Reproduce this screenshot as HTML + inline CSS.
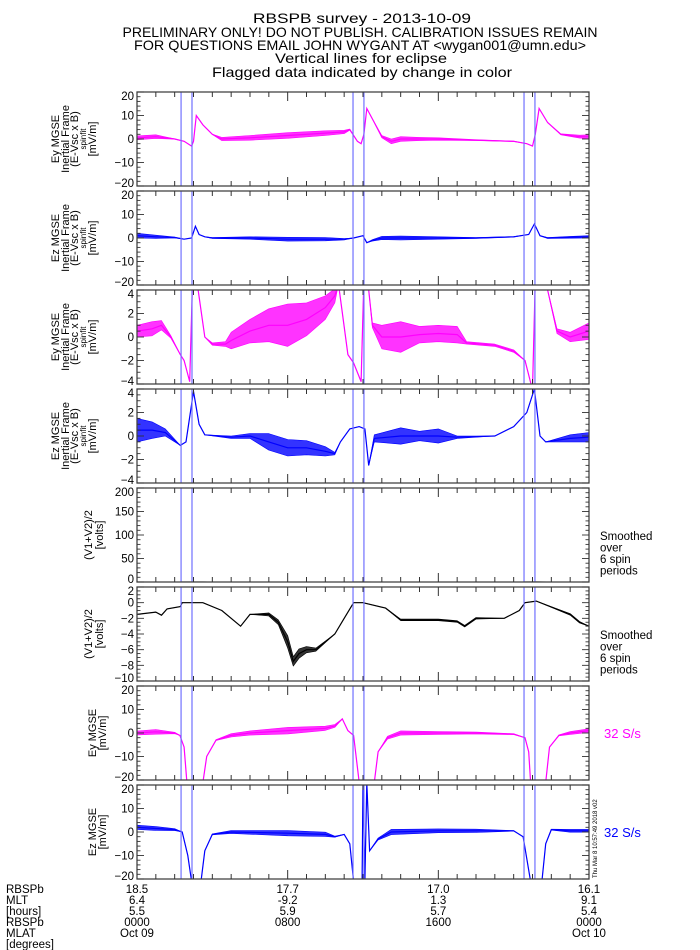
<!DOCTYPE html>
<html><head><meta charset="utf-8"><style>
html,body{margin:0;padding:0;background:#fff;}
svg{display:block;font-family:"Liberation Sans",sans-serif;}
</style></head><body>
<svg id="chart" width="700" height="950" viewBox="0 0 700 950" xmlns="http://www.w3.org/2000/svg">
<g font-size="14" text-anchor="middle" fill="#000">
<text x="362" y="23" textLength="218" lengthAdjust="spacingAndGlyphs">RBSPB survey - 2013-10-09</text>
<text x="360" y="37" textLength="475" lengthAdjust="spacingAndGlyphs">PRELIMINARY ONLY! DO NOT PUBLISH. CALIBRATION ISSUES REMAIN</text>
<text x="360" y="50" textLength="452" lengthAdjust="spacingAndGlyphs">FOR QUESTIONS EMAIL JOHN WYGANT AT &lt;wygan001@umn.edu&gt;</text>
<text x="361" y="63" textLength="172" lengthAdjust="spacingAndGlyphs">Vertical lines for eclipse</text>
<text x="362" y="77" textLength="300" lengthAdjust="spacingAndGlyphs">Flagged data indicated by change in color</text>
</g>
<g id="panels"></g>
<g font-size="11.5" fill="#000">
<text x="6" y="893">RBSPb</text>
<text x="6" y="904">MLT</text>
<text x="6" y="915">[hours]</text>
<text x="6" y="926">RBSPb</text>
<text x="6" y="937">MLAT</text>
<text x="6" y="948">[degrees]</text>
</g>
<g id="xlabels" font-size="11.5" text-anchor="middle"></g>
</svg>
<script>
// ---- data ----
const eclipseT = [2.34, 2.92, 11.47, 12.05, 20.55, 21.13];
const xTickHours = [0, 8, 16, 24];
const rowL = ["18.5","17.7","17.0","16.1"];
const rowMLT = ["6.4","-9.2","1.3","9.1"];
const rowH = ["5.5","5.9","5.7","5.4"];
const rowTime = ["0000","0800","1600","0000"];
const rowDate = ["Oct 09","","","Oct 10"];

const p1T = [0,1,1.5,2,2.5,2.9,3.0,3.15,3.5,4,4.5,6,8,10,11,11.3,11.7,11.9,12.05,12.2,12.6,13,13.5,14,15,16,18,20,20.7,21.0,21.15,21.35,21.8,22.5,23.5,24];
const p1V = [0.5,1,0.5,0,-1,-3,-1,10,6,2,0,0.5,1.5,2.5,3,4,-1,-2,2,13,7,1,-1,0,0,0,-0.5,-1,-2,-3,2,13,7,2,1,1];
const p1N = [0.8,0.8,0.4,0.1,0,0,0,0,0,0.1,0.7,1,1.2,1,0.7,0.2,0,0,0,0,0.1,0.5,1,1,0.7,0.5,0.2,0.1,0,0,0,0,0,0.2,0.6,0.8];

const p2T = [0,1,2,2.5,2.9,3.1,3.3,3.6,4,6,8,10,11,11.5,12,12.2,12.5,13,14,16,18,20,20.8,21.1,21.4,21.8,23,24];
const p2V = [1,0.5,0.2,-0.5,0,5,1.5,0.5,0,0,-0.5,-0.5,-0.5,0,1,-2,-1,0,0,0,0,0.5,1.5,6,1,0,0.3,0.5];
const p2N = [1,0.7,0.2,0,0,0,0,0,0.2,0.5,0.8,0.7,0.3,0,0,0,0.3,0.7,0.8,0.5,0.2,0.1,0,0,0,0.2,0.4,0.5];

const p3T = [0,0.8,1.3,1.8,2.3,2.5,2.8,2.95,3.2,3.6,4.0,4.7,5,6,7,8,9,10,10.5,10.7,11.2,11.5,11.9,12.05,12.3,12.5,13,14,15,16,17,17.5,19,20,20.6,21.0,21.15,21.8,22.3,23,24];
const p3V = [0.5,0.7,1,0,-1.5,-2,-3.8,5,4.5,0,-0.6,-0.6,-0.3,0.5,1,1,1.5,2.5,3.5,4.5,-1.5,-2.2,-3.8,5,4,1,0,0,0.2,0.3,0.2,-0.5,-0.7,-1.2,-2,-4.5,5,4,0.5,0,0.5];
const p3N = [0.5,0.6,0.4,0.1,0,0,0,0,0,0,0.1,0.2,0.7,1,1.4,1.8,1.4,1,0.6,0,0,0,0,0,0,0.2,1,1.3,0.7,0.7,0.7,0.1,0.1,0.1,0,0,0,0,0.2,0.4,0.7];

const p4T = [0,0.8,1.5,2.3,2.6,3.0,3.3,3.6,5,6,7,8,9,10,10.5,10.8,11.3,11.8,12.1,12.3,12.6,14,15,16,17,19,20,20.7,21.1,21.4,21.7,23,24];
const p4V = [0.5,0.5,0.3,-0.8,-0.5,3.8,1,0.1,-0.1,0,-0.5,-1,-1,-1.3,-1.5,-0.5,0.6,0.8,0.6,-2.5,-0.2,0,0,0,-0.1,0,0.8,2,4,0,-0.5,-0.2,-0.1];
const p4N = [1,0.7,0.3,0,0,0,0,0,0.1,0.2,0.7,0.7,0.6,0.4,0.1,0,0,0,0,0,0.3,0.7,0.4,0.6,0.1,0,0,0,0,0,0,0.3,0.4];

const vT = [0,1,1.3,1.6,2.3,2.4,3.5,4.5,5.5,6,7,7.5,8,8.3,8.6,9,9.5,10.5,11,11.5,12,13.2,14,16,17,17.4,18,19.5,20.3,20.6,21.2,23,23.5,24];
const vV = [-1.5,-1.2,-1.6,-0.8,-0.5,0,0,-1,-3,-1.5,-1.5,-2.5,-5,-7.5,-6.5,-6,-6,-4,-2,0,0,-0.7,-2.2,-2.2,-2.4,-3,-2,-2,-1,0,0.2,-1.5,-2.5,-3];
const vN = [0,0,0,0,0,0,0,0,0,0,0.2,0.3,0.8,0.6,0.6,0.4,0.2,0,0,0,0,0,0.1,0.1,0.1,0.1,0.1,0,0,0,0,0.1,0.1,0];

const p7T = [0,1,2,2.28,2.5,2.65,3.5,3.7,4.2,5,6,8,10,10.5,10.9,11.2,11.5,11.8,12.6,12.8,13.3,14,16,18,20,20.6,20.8,20.9,21.7,21.9,22.4,23,24];
const p7V = [0,0.5,0,-1,-6,-21,-21,-10,-3,-1,0,1,2,3,6,1,-1,-21,-21,-8,-2,0,0,0,-0.5,-2,-8,-21,-21,-6,-1,0,1];
const p7N = [0.8,1,0.3,0,0,0,0,0,0.2,0.7,0.9,1.4,0.9,0.6,0,0,0,0,0,0,0.6,0.9,0.6,0.4,0.2,0,0,0,0,0,0.2,0.6,0.8];

const p8T = [0,1,2,2.4,2.7,2.9,3.4,3.6,4,5,8,10,10.5,11,11.3,11.5,11.95,12.0,12.1,12.2,12.35,12.8,13.5,16,18,20,20.5,20.9,21.5,21.7,22,23,24];
const p8V = [2,1.5,1,0,-10,-21,-21,-8,-1,0,-0.5,-1,-2,-1,-5,-21,-21,21,-21,21,-8,-3,0,0.5,0.5,0.5,-2,-21,-21,-5,1,0.5,0.5];
const p8N = [0.9,0.8,0.4,0,0,0,0,0,0.2,0.6,1.1,0.9,0.2,0,0,0,0,0,0,0,0,0.4,1.1,0.8,0.7,0.1,0,0,0,0,0.2,0.6,0.6];

// ---- layout ----
const NS = "http://www.w3.org/2000/svg";
const X0 = 137, X1 = 589, TOP0 = 92, PITCH = 99, PH = 94;
const xs = t => X0 + (t / 24) * (X1 - X0);
const panels = [
 {name:"ey-spinfit", min:-20,max:20,major:10,minor:2,color:"#ff00ff",T:p1T,V:p1V,N:p1N,labels:[["Ey MGSE",11],["Inertial Frame",11],["(E-Vsc x B)",11],["spinfit",8],["[mV/m]",11]],lx:[55,65,74,82,92]},
 {name:"ez-spinfit", min:-20,max:20,major:10,minor:2,color:"#0000ff",T:p2T,V:p2V,N:p2N,labels:[["Ez MGSE",11],["Inertial Frame",11],["(E-Vsc x B)",11],["spinfit",8],["[mV/m]",11]],lx:[55,65,74,82,92]},
 {name:"ey-spinfit-zoom", min:-4,max:4,major:2,minor:0.5,color:"#ff00ff",T:p3T,V:p3V,N:p3N,labels:[["Ey MGSE",11],["Inertial Frame",11],["(E-Vsc x B)",11],["spinfit",8],["[mV/m]",11]],lx:[55,65,74,82,92]},
 {name:"ez-spinfit-zoom", min:-4,max:4,major:2,minor:0.5,color:"#0000ff",T:p4T,V:p4V,N:p4N,labels:[["Ez MGSE",11],["Inertial Frame",11],["(E-Vsc x B)",11],["spinfit",8],["[mV/m]",11]],lx:[55,65,74,82,92]},
 {name:"vavg-wide", min:0,max:200,major:50,minor:10,color:"#888888",T:vT,V:vV,N:vN,labels:[["(V1+V2)/2",11],["[volts]",11]],lx:[88,99],right:["Smoothed","over","6  spin","periods"],rc:"#000"},
 {name:"vavg", min:-10,max:2,major:2,minor:0.5,color:"#000000",T:vT,V:vV,N:vN,labels:[["(V1+V2)/2",11],["[volts]",11]],lx:[88,99],right:["Smoothed","over","6  spin","periods"],rc:"#000"},
 {name:"ey-32sps", min:-20,max:20,major:10,minor:2,color:"#ff00ff",T:p7T,V:p7V,N:p7N,labels:[["Ey MGSE",11],["[mV/m]",11]],lx:[92,102],right:["32 S/s"],rc:"#ff00ff"},
 {name:"ez-32sps", min:-20,max:20,major:10,minor:2,color:"#0000ff",T:p8T,V:p8V,N:p8N,labels:[["Ez MGSE",11],["[mV/m]",11]],lx:[92,102],right:["32 S/s"],rc:"#0000ff"}
];
const root = document.getElementById("panels");
function mk(tag, attrs, parent){ const e=document.createElementNS(NS,tag); for(const k in attrs) e.setAttribute(k,attrs[k]); (parent||root).appendChild(e); return e; }

panels.forEach((p,i)=>{
  const top = TOP0 + i*PITCH, bot = top + PH;
  const ys = v => bot - (v - p.min)/(p.max - p.min)*PH;
  const g = mk("g",{});
  
  
  const cp = mk("clipPath",{id:"cp"+i},g);
  mk("rect",{x:X0,y:top,width:X1-X0,height:PH},cp);
  const dg = mk("g",{"clip-path":"url(#cp"+i+")"},g);
  let up=[],dn=[],ln=[];
  p.T.forEach((t,k)=>{ up.push(xs(t).toFixed(1)+","+ys(p.V[k]+p.N[k]).toFixed(1)); dn.unshift(xs(t).toFixed(1)+","+ys(p.V[k]-p.N[k]).toFixed(1)); ln.push(xs(t).toFixed(1)+","+ys(p.V[k]).toFixed(1)); });
  const band = mk("polygon",{points:up.concat(dn).join(" "),fill:p.color,"fill-opacity":0.8,stroke:p.color,"stroke-width":0.6,"stroke-linejoin":"round"},dg);
  
  
  const line = mk("polyline",{points:ln.join(" "),fill:"none",stroke:p.color,"stroke-width":1.2},dg);
  
  
  eclipseT.forEach(t=>{ const l=mk("line",{x1:xs(t),x2:xs(t),y1:top,y2:bot,stroke:"#7070ff","stroke-width":1.2},g);
    
     });
  const fr = mk("rect",{x:X0,y:top,width:X1-X0,height:PH,fill:"none",stroke:"#444","stroke-width":1.3},g);
  
  
  for(let h=1;h<24;h++){ const L = (h%8===0)?9:5; const x=xs(h);
    mk("line",{x1:x,x2:x,y1:bot,y2:bot-L,stroke:"#333","stroke-width":1},g);
    mk("line",{x1:x,x2:x,y1:top,y2:top+L,stroke:"#333","stroke-width":1},g); }
  for(let v=p.min; v<=p.max+1e-9; v+=p.minor){ const isMaj = Math.abs(v/p.major - Math.round(v/p.major))<1e-6; const L=isMaj?7:3.5; const y=ys(v);
    mk("line",{x1:X0,x2:X0+L,y1:y,y2:y,stroke:"#333","stroke-width":0.9},g);
    mk("line",{x1:X1,x2:X1-L,y1:y,y2:y,stroke:"#333","stroke-width":0.9},g);
    if(isMaj){ const ty = v===p.min ? y+1 : (v===p.max ? y+8 : y+4);
      const tl=mk("text",{x:X0-3,y:ty,"font-size":11.5,"text-anchor":"end",fill:"#000"},g); tl.textContent=String(Math.round(v*10)/10).replace("-","\u2212");
      
       } }
  const mid = (top+bot)/2;
  p.labels.forEach((lb,k)=>{ const t=mk("text",{x:0,y:0,"font-size":lb[1],"text-anchor":"middle",fill:"#000",transform:"translate("+(p.lx[k]+4)+","+mid+") rotate(-90)"},g); t.textContent=lb[0];
    
     });
  if(p.right){ const n=p.right.length; p.right.forEach((s,k)=>{ const yy = n===1 ? ys(0)+5 : bot-42+k*11.5; const t=mk("text",{x:n===1?604:600,y:yy,"font-size":n===1?13:11.5,fill:p.rc},g); t.textContent=s;
    
     }); }
});
const ts = mk("text",{x:0,y:0,"font-size":6,fill:"#000",transform:"translate(597,878) rotate(-90)"});
ts.textContent="Thu Mar  8 10:57:49 2018 v02";


const xl = document.getElementById("xlabels");
const rows=[rowL,rowMLT,rowH,rowTime,rowDate];
rows.forEach((r,ri)=>{ r.forEach((s,k)=>{ if(!s) return; const t=mk("text",{x:xs(xTickHours[k]),y:893+ri*11,fill:"#000"},xl); t.textContent=s;
  
   }); });
</script>
</body></html>
